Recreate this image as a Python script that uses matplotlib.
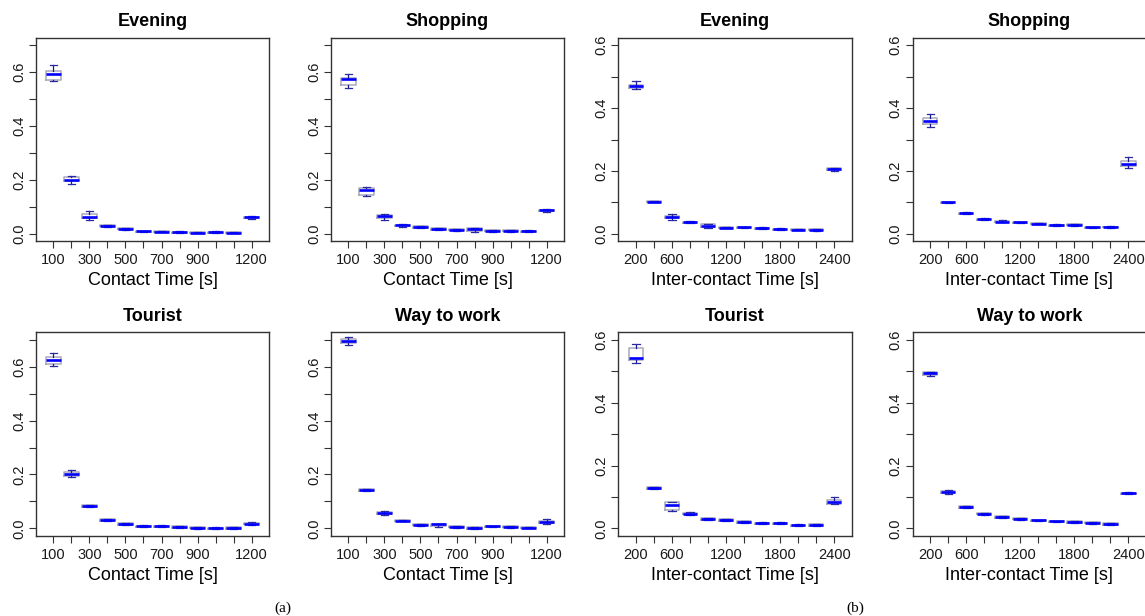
"""
Contact / inter-contact time distributions per scenario, R-style boxplots
"""
import numpy as np
import matplotlib
matplotlib.use('Agg')
import matplotlib.pyplot as plt

plt.rcParams['font.family'] = ['Liberation Sans', 'DejaVu Sans']

W, H = 1145, 616

# x categories and visible tick labels (R drops the overlapping ones)
contact_bins = [100, 200, 300, 400, 500, 600, 700, 800, 900, 1000, 1100, 1200]
contact_labels = ['100', '', '300', '', '500', '', '700', '', '900', '', '', '1200']
inter_bins = [200, 400, 600, 800, 1000, 1200, 1400, 1600, 1800, 2000, 2200, 2400]
inter_labels = ['200', '', '600', '', '', '1200', '', '', '1800', '', '', '2400']

# (whisker low, q1, median, q3, whisker high) per bin
evening_contact = [
    (0.566, 0.570, 0.594, 0.603, 0.627),
    (0.183, 0.195, 0.201, 0.210, 0.216),
    (0.050, 0.058, 0.064, 0.072, 0.083),
    (0.026, 0.027, 0.030, 0.033, 0.034),
    (0.015, 0.016, 0.0175, 0.020, 0.021),
    (0.006, 0.007, 0.009, 0.011, 0.012),
    (0.006, 0.007, 0.008, 0.010, 0.011),
    (0.003, 0.004, 0.005, 0.008, 0.009),
    (0.002, 0.003, 0.004, 0.007, 0.008),
    (0.003, 0.004, 0.005, 0.008, 0.009),
    (0.001, 0.002, 0.003, 0.006, 0.007),
    (0.055, 0.058, 0.062, 0.064, 0.065),
]
shopping_contact = [
    (0.542, 0.552, 0.573, 0.579, 0.593),
    (0.142, 0.145, 0.163, 0.170, 0.173),
    (0.052, 0.058, 0.0646, 0.070, 0.073),
    (0.026, 0.028, 0.031, 0.033, 0.035),
    (0.020, 0.021, 0.0236, 0.027, 0.028),
    (0.014, 0.015, 0.0174, 0.021, 0.022),
    (0.012, 0.013, 0.015, 0.017, 0.018),
    (0.007, 0.011, 0.016, 0.020, 0.022),
    (0.008, 0.009, 0.011, 0.013, 0.014),
    (0.008, 0.009, 0.011, 0.013, 0.014),
    (0.006, 0.007, 0.009, 0.012, 0.013),
    (0.082, 0.084, 0.088, 0.090, 0.091),
]
tourist_contact = [
    (0.602, 0.610, 0.624, 0.638, 0.650),
    (0.190, 0.194, 0.203, 0.210, 0.218),
    (0.078, 0.080, 0.083, 0.086, 0.088),
    (0.027, 0.029, 0.032, 0.035, 0.036),
    (0.012, 0.013, 0.017, 0.019, 0.021),
    (0.005, 0.006, 0.0075, 0.010, 0.011),
    (0.005, 0.006, 0.0075, 0.010, 0.011),
    (0.002, 0.003, 0.005, 0.007, 0.008),
    (-0.001, 0.000, 0.0025, 0.005, 0.006),
    (-0.003, -0.002, 0.000, 0.003, 0.004),
    (-0.002, -0.001, 0.001, 0.004, 0.005),
    (0.014, 0.015, 0.018, 0.021, 0.022),
]
work_contact = [
    (0.681, 0.688, 0.696, 0.704, 0.711),
    (0.138, 0.140, 0.1436, 0.146, 0.147),
    (0.051, 0.054, 0.058, 0.062, 0.065),
    (0.026, 0.027, 0.0285, 0.030, 0.031),
    (0.010, 0.011, 0.0135, 0.016, 0.017),
    (0.006, 0.010, 0.015, 0.017, 0.018),
    (0.003, 0.004, 0.006, 0.008, 0.009),
    (-0.002, -0.001, 0.001, 0.004, 0.005),
    (0.005, 0.006, 0.007, 0.008, 0.009),
    (0.003, 0.004, 0.006, 0.008, 0.009),
    (0.000, 0.001, 0.002, 0.004, 0.005),
    (0.016, 0.020, 0.0245, 0.029, 0.033),
]
evening_inter = [
    (0.462, 0.465, 0.470, 0.475, 0.487),
    (0.100, 0.101, 0.1026, 0.104, 0.105),
    (0.044, 0.049, 0.053, 0.058, 0.0625),
    (0.034, 0.035, 0.037, 0.039, 0.040),
    (0.019, 0.022, 0.026, 0.030, 0.032),
    (0.017, 0.018, 0.019, 0.021, 0.022),
    (0.018, 0.019, 0.020, 0.022, 0.023),
    (0.015, 0.016, 0.017, 0.019, 0.020),
    (0.012, 0.013, 0.0137, 0.016, 0.017),
    (0.011, 0.012, 0.0127, 0.015, 0.016),
    (0.010, 0.011, 0.012, 0.014, 0.015),
    (0.201, 0.203, 0.205, 0.208, 0.209),
]
shopping_inter = [
    (0.339, 0.350, 0.359, 0.370, 0.381),
    (0.097, 0.098, 0.0995, 0.101, 0.102),
    (0.062, 0.063, 0.0645, 0.067, 0.068),
    (0.043, 0.044, 0.0455, 0.048, 0.049),
    (0.036, 0.037, 0.038, 0.042, 0.045),
    (0.034, 0.035, 0.036, 0.038, 0.039),
    (0.030, 0.031, 0.032, 0.034, 0.035),
    (0.024, 0.025, 0.0265, 0.029, 0.030),
    (0.026, 0.027, 0.028, 0.030, 0.031),
    (0.018, 0.019, 0.020, 0.022, 0.023),
    (0.019, 0.020, 0.021, 0.023, 0.024),
    (0.208, 0.216, 0.223, 0.230, 0.244),
]
tourist_inter = [
    (0.525, 0.536, 0.542, 0.573, 0.587),
    (0.124, 0.125, 0.127, 0.131, 0.133),
    (0.055, 0.057, 0.0743, 0.083, 0.083),
    (0.044, 0.045, 0.047, 0.050, 0.051),
    (0.027, 0.028, 0.030, 0.032, 0.033),
    (0.024, 0.025, 0.0265, 0.029, 0.030),
    (0.017, 0.018, 0.020, 0.022, 0.023),
    (0.013, 0.014, 0.016, 0.018, 0.019),
    (0.013, 0.014, 0.016, 0.018, 0.019),
    (0.007, 0.008, 0.0095, 0.012, 0.013),
    (0.008, 0.009, 0.0106, 0.013, 0.014),
    (0.076, 0.079, 0.085, 0.090, 0.100),
]
work_inter = [
    (0.486, 0.488, 0.493, 0.497, 0.498),
    (0.110, 0.113, 0.1164, 0.119, 0.122),
    (0.065, 0.066, 0.0677, 0.070, 0.071),
    (0.044, 0.045, 0.0466, 0.049, 0.050),
    (0.033, 0.034, 0.036, 0.038, 0.039),
    (0.028, 0.029, 0.0307, 0.033, 0.034),
    (0.023, 0.024, 0.0254, 0.027, 0.028),
    (0.019, 0.020, 0.022, 0.024, 0.025),
    (0.017, 0.018, 0.020, 0.022, 0.023),
    (0.015, 0.016, 0.018, 0.020, 0.021),
    (0.011, 0.012, 0.0138, 0.016, 0.017),
    (0.109, 0.110, 0.112, 0.114, 0.115),
]

# panel layout in pixels: (left, top) of each axes
ax_w, ax_h = 233.6, 203.6
panels = [
    ('Evening', evening_contact, 'contact', 35.7, 37.7),
    ('Shopping', shopping_contact, 'contact', 330.7, 37.7),
    ('Tourist', tourist_contact, 'contact', 35.7, 332.3),
    ('Way to work', work_contact, 'contact', 330.7, 332.3),
    ('Evening', evening_inter, 'inter', 618.3, 37.7),
    ('Shopping', shopping_inter, 'inter', 912.5, 37.7),
    ('Tourist', tourist_inter, 'inter', 618.3, 332.3),
    ('Way to work', work_inter, 'inter', 912.5, 332.3),
]

fig = plt.figure(figsize=(W / 100, H / 100), dpi=100)
fig.patch.set_facecolor('white')

for title, rows, kind, left, top in panels:
    ax = fig.add_axes([left / W, 1 - (top + ax_h) / H, ax_w / W, ax_h / H])
    stats = []
    for lo, q1, med, q3, hi in rows:
        stats.append({'whislo': lo, 'q1': q1, 'med': med, 'q3': q3, 'whishi': hi, 'fliers': []})
    n = len(stats)
    ax.bxp(stats, positions=np.arange(1, n + 1), widths=0.8, capwidths=0.4,
           showfliers=False,
           boxprops=dict(color='#a8a8bc', linewidth=1.1),
           medianprops=dict(color='#0000ff', linewidth=1.9, solid_capstyle='butt'),
           whiskerprops=dict(color='#1a1a8c', linewidth=0.9),
           capprops=dict(color='#2a2aa0', linewidth=0.9))

    ax.set_xlim(0.02, 12.98)
    ax.set_xticks(np.arange(1, n + 1))
    if kind == 'contact':
        ax.set_xticklabels(contact_labels)
        ax.set_xlabel('Contact Time [s]', fontsize=13)
        ax.set_ylim(-0.028, 0.728)
        yt = np.arange(0, 0.71, 0.1)
        ax.set_yticks(yt)
        ax.set_yticklabels(['0.0', '', '0.2', '', '0.4', '', '0.6', ''])
    else:
        ax.set_xticklabels(inter_labels)
        ax.set_xlabel('Inter-contact Time [s]', fontsize=13)
        ax.set_ylim(-0.024, 0.624)
        yt = np.arange(0, 0.61, 0.1)
        ax.set_yticks(yt)
        ax.set_yticklabels(['0.0', '', '0.2', '', '0.4', '', '0.6'])

    ax.xaxis.label.set_va('baseline')
    ax.xaxis.set_label_coords(0.5, -43.7 / ax_h)
    ax.set_title(title, fontsize=13, fontweight='bold', pad=8.4)

    ax.tick_params(axis='both', direction='out', length=5, width=0.8,
                   color='#333333', labelsize=10.5, labelcolor='#1a1a1a')
    ax.tick_params(axis='x', pad=3.5)
    ax.tick_params(axis='y', pad=2)
    for lbl in ax.get_yticklabels():
        lbl.set_rotation(90)
        lbl.set_va('center')

    for sp in ax.spines.values():
        sp.set_color('#333333')
        sp.set_linewidth(1.0)

fig.text(283 / W, 1 - 608 / H, '(a)', family='Liberation Serif', fontsize=11,
         ha='center', va='center')
fig.text(855 / W, 1 - 608 / H, '(b)', family='Liberation Serif', fontsize=11,
         ha='center', va='center')

plt.savefig('out.png', dpi=100)
plt.close()
